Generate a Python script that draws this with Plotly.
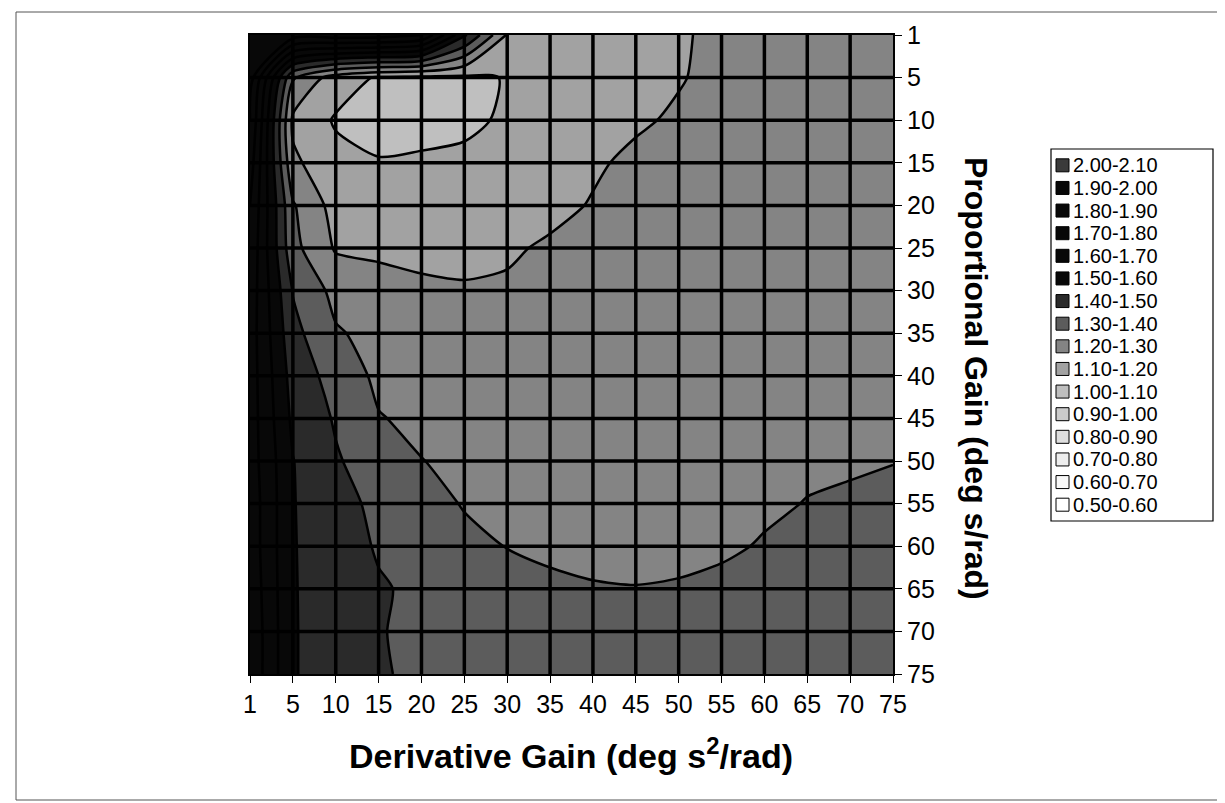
import plotly.graph_objects as go

# ---------------- data ----------------
deriv_gain = [1, 5, 10, 15, 20, 25, 30, 35, 40, 45, 50, 55, 60, 65, 70, 75]
prop_gain = [1, 5, 10, 15, 20, 25, 30, 35, 40, 45, 50, 55, 60, 65, 70, 75]

# rows: proportional gain (1 -> 75), columns: derivative gain (1 -> 75)
row_p01 = [1.98, 1.95, 1.95, 1.95, 1.90, 1.52, 1.19, 1.16, 1.15, 1.16, 1.19, 1.22, 1.24, 1.25, 1.26, 1.27]
row_p05 = [1.95, 1.31, 1.15, 1.09, 1.08, 1.08, 1.105, 1.15, 1.17, 1.18, 1.195, 1.22, 1.24, 1.25, 1.26, 1.27]
row_p10 = [1.90, 1.18, 1.09, 1.04, 1.05, 1.07, 1.12, 1.16, 1.17, 1.19, 1.21, 1.24, 1.26, 1.27, 1.28, 1.28]
row_p15 = [1.85, 1.22, 1.13, 1.11, 1.12, 1.13, 1.15, 1.17, 1.19, 1.215, 1.25, 1.27, 1.28, 1.28, 1.285, 1.285]
row_p20 = [1.80, 1.31, 1.16, 1.14, 1.14, 1.15, 1.16, 1.18, 1.205, 1.23, 1.26, 1.275, 1.28, 1.285, 1.285, 1.285]
row_p25 = [1.78, 1.33, 1.19, 1.18, 1.17, 1.17, 1.19, 1.21, 1.23, 1.25, 1.265, 1.275, 1.28, 1.285, 1.285, 1.285]
row_p30 = [1.76, 1.395, 1.27, 1.24, 1.22, 1.21, 1.21, 1.22, 1.24, 1.255, 1.265, 1.275, 1.28, 1.285, 1.285, 1.285]
row_p35 = [1.75, 1.43, 1.31, 1.27, 1.25, 1.23, 1.22, 1.22, 1.23, 1.25, 1.265, 1.275, 1.28, 1.285, 1.285, 1.285]
row_p40 = [1.75, 1.46, 1.36, 1.28, 1.27, 1.25, 1.24, 1.24, 1.25, 1.26, 1.27, 1.28, 1.285, 1.285, 1.285, 1.287]
row_p45 = [1.75, 1.48, 1.39, 1.305, 1.28, 1.26, 1.25, 1.25, 1.255, 1.265, 1.275, 1.28, 1.285, 1.287, 1.288, 1.29]
row_p50 = [1.75, 1.503, 1.41, 1.35, 1.302, 1.28, 1.27, 1.265, 1.265, 1.27, 1.275, 1.28, 1.287, 1.29, 1.295, 1.299]
row_p55 = [1.76, 1.505, 1.43, 1.38, 1.33, 1.295, 1.285, 1.275, 1.27, 1.27, 1.275, 1.28, 1.29, 1.302, 1.306, 1.31]
row_p60 = [1.76, 1.505, 1.45, 1.39, 1.35, 1.32, 1.298, 1.285, 1.28, 1.28, 1.285, 1.29, 1.305, 1.325, 1.335, 1.345]
row_p65 = [1.77, 1.505, 1.46, 1.41, 1.38, 1.35, 1.33, 1.315, 1.305, 1.302, 1.305, 1.315, 1.33, 1.345, 1.355, 1.365]
row_p70 = [1.78, 1.505, 1.465, 1.405, 1.38, 1.37, 1.35, 1.34, 1.33, 1.33, 1.335, 1.34, 1.35, 1.36, 1.37, 1.375]
row_p75 = [1.78, 1.505, 1.465, 1.415, 1.37, 1.36, 1.355, 1.35, 1.345, 1.34, 1.345, 1.35, 1.355, 1.36, 1.37, 1.38]

z_rows = [row_p01, row_p05, row_p10, row_p15, row_p20, row_p25, row_p30, row_p35,
          row_p40, row_p45, row_p50, row_p55, row_p60, row_p65, row_p70, row_p75]

# bands, lowest to highest
band_lows = [0.5, 0.6, 0.7, 0.8, 0.9, 1.0, 1.1, 1.2, 1.3, 1.4, 1.5, 1.6, 1.7, 1.8, 1.9, 2.0]
band_labels = ["0.50-0.60", "0.60-0.70", "0.70-0.80", "0.80-0.90", "0.90-1.00", "1.00-1.10",
               "1.10-1.20", "1.20-1.30", "1.30-1.40", "1.40-1.50", "1.50-1.60", "1.60-1.70",
               "1.70-1.80", "1.80-1.90", "1.90-2.00", "2.00-2.10"]
band_colors = ["#ffffff", "#f8f8f8", "#eeeeee", "#dedede", "#cbcbcb", "#bfbfbf",
               "#a2a2a2", "#848484", "#5c5c5c", "#2a2a2a", "#080808", "#080808",
               "#080808", "#080808", "#080808", "#3a3a3a"]

# ---------------- figure ----------------
FONT = "Arial, Liberation Sans, sans-serif"
L, R, T, B = 242, 885, 27, 666
W, H = 1225, 803

def px(xp):
    return (xp - L) / (R - L)

def py(yp):
    return (B - yp) / (B - T)

step = 0.1
zlo, zhi = band_lows[0] - step / 2, band_lows[-1] + step * 1.5
cscale = [[0.0, band_colors[0]]]
for lo, c in zip(band_lows, band_colors):
    cscale.append([(lo + step / 2 - zlo) / (zhi - zlo), c])
cscale.append([1.0, band_colors[-1]])

xi = list(range(len(deriv_gain)))
yi = list(range(len(prop_gain)))

fig = go.Figure()
fig.add_trace(go.Contour(
    z=z_rows, x=xi, y=yi,
    autocontour=False,
    contours=dict(start=band_lows[0], end=band_lows[-1] + step, size=step,
                  coloring="fill", showlines=True),
    line=dict(color="black", width=2.5, smoothing=0.7),
    colorscale=cscale, zmin=zlo, zmax=zhi,
    showscale=False, hoverinfo="skip",
))

shapes = []
for v in xi[1:-1]:
    shapes.append(dict(type="line", xref="x", yref="y", x0=v, x1=v, y0=yi[0], y1=yi[-1],
                       line=dict(color="black", width=3.5), layer="above"))
for v in yi[1:-1]:
    shapes.append(dict(type="line", xref="x", yref="y", x0=xi[0], x1=xi[-1], y0=v, y1=v,
                       line=dict(color="black", width=3.5), layer="above"))

# outer chart border
shapes.append(dict(type="rect", xref="paper", yref="paper",
                   x0=px(8), x1=px(1219), y0=py(792), y1=py(4),
                   line=dict(color="#555555", width=1), fillcolor="rgba(0,0,0,0)"))

annotations = []
# legend box
leg_l, leg_r, leg_t, leg_b = 1043, 1205, 141, 513
shapes.append(dict(type="rect", xref="paper", yref="paper",
                   x0=px(leg_l), x1=px(leg_r), y0=py(leg_b), y1=py(leg_t),
                   line=dict(color="black", width=1.2), fillcolor="white"))
pad = 5
pitch = (leg_b - leg_t - 2 * pad) / len(band_labels)
for k, idx in enumerate(range(len(band_labels) - 1, -1, -1)):
    yc = leg_t + pad + pitch * (k + 0.5)
    shapes.append(dict(type="rect", xref="paper", yref="paper",
                       x0=px(1048), x1=px(1061), y0=py(yc + 6.5), y1=py(yc - 6.5),
                       line=dict(color="black", width=1), fillcolor=band_colors[idx]))
    annotations.append(dict(xref="paper", yref="paper", x=px(1064), y=py(yc),
                            xanchor="left", yanchor="middle", showarrow=False,
                            text=band_labels[idx], borderpad=0,
                            font=dict(family=FONT, size=20, color="black")))

annotations.append(dict(xref="paper", yref="paper", x=px(563), y=py(745),
                        xanchor="center", yanchor="middle", showarrow=False,
                        text="<b>Derivative Gain (deg s<sup>2</sup>/rad)</b>",
                        font=dict(family=FONT, size=34, color="black")))
annotations.append(dict(xref="paper", yref="paper", x=px(968), y=py(370),
                        xanchor="center", yanchor="middle", showarrow=False,
                        textangle=90,
                        text="<b>Proportional Gain (deg s/rad)</b>",
                        font=dict(family=FONT, size=32, color="black")))

fig.update_layout(
    width=W, height=H,
    margin=dict(l=L, r=W - R, t=T, b=H - B, pad=0),
    paper_bgcolor="white", plot_bgcolor="white",
    showlegend=False,
    font=dict(family=FONT, color="black"),
    xaxis=dict(tickmode="array", tickvals=xi, ticktext=[str(v) for v in deriv_gain],
               range=[xi[0], xi[-1]], showgrid=False, zeroline=False,
               ticks="outside", ticklen=7, tickwidth=1, tickcolor="black",
               showline=True, linecolor="black", linewidth=2, mirror=True,
               tickfont=dict(family=FONT, size=25, color="black")),
    yaxis=dict(tickmode="array", tickvals=yi, ticktext=[str(v) for v in prop_gain],
               range=[yi[-1], yi[0]], side="right", showgrid=False, zeroline=False,
               ticks="outside", ticklen=7, tickwidth=1, tickcolor="black",
               showline=True, linecolor="black", linewidth=2, mirror=True,
               tickfont=dict(family=FONT, size=25, color="black")),
    shapes=shapes,
    annotations=annotations,
)

fig.write_html("out.html")
